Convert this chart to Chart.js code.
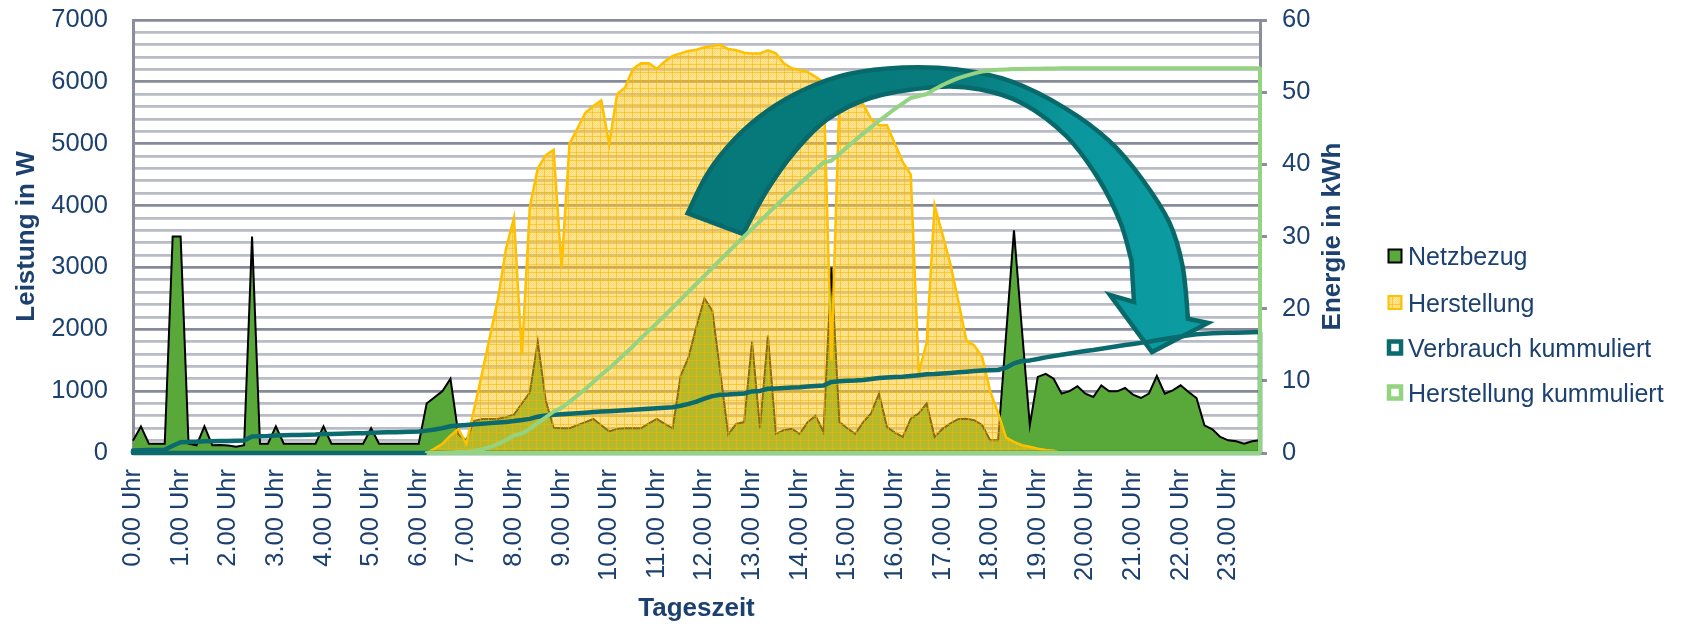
<!DOCTYPE html>
<html>
<head>
<meta charset="utf-8">
<title>Tagesverlauf Leistung und Energie</title>
<script src="https://cdn.jsdelivr.net/npm/chart.js@4.4.1/dist/chart.umd.min.js"></script>
<style>
  html, body { margin: 0; padding: 0; background: #ffffff; }
  #wrap { width: 1706px; height: 627px; }
</style>
</head>
<body>
<div id="wrap"><canvas id="chart" width="1706" height="627"></canvas></div>
<script>
// Hour labels shown on the time axis
const hourTicks = ['0.00 Uhr','1.00 Uhr','2.00 Uhr','3.00 Uhr','4.00 Uhr','5.00 Uhr','6.00 Uhr','7.00 Uhr',
  '8.00 Uhr','9.00 Uhr','10.00 Uhr','11.00 Uhr','12.00 Uhr','13.00 Uhr','14.00 Uhr','15.00 Uhr',
  '16.00 Uhr','17.00 Uhr','18.00 Uhr','19.00 Uhr','20.00 Uhr','21.00 Uhr','22.00 Uhr','23.00 Uhr'];

// 10-minute time slots from 0.00 to 23.40 Uhr
const times = [];
for (let k = 0; k < 143; k++) {
  const h = Math.floor(k / 6), m = (k % 6) * 10;
  times.push(h + '.' + String(m).padStart(2, '0') + ' Uhr');
}

// Grid power drawn (W)
const netzbezug = [
  200, 430, 150, 150, 150, 3500, 3500, 150, 125, 430,
  125, 130, 120, 100, 125, 3500, 150, 150, 430, 150,
  150, 150, 150, 150, 430, 150, 150, 150, 150, 150,
  400, 150, 150, 150, 150, 150, 150, 800, 900, 1000,
  1200, 300, 200, 520, 550, 550, 555, 580, 620, 800,
  980, 1800, 850, 410, 400, 400, 450, 500, 550, 450,
  350, 390, 400, 400, 400, 480, 550, 470, 400, 1250,
  1550, 2050, 2500, 2300, 1300, 300, 470, 500, 1800, 400,
  1900, 310, 370, 390, 310, 500, 600, 340, 3000, 500,
  400, 310, 500, 640, 960, 420, 330, 260, 555, 640,
  800, 260, 390, 480, 550, 555, 530, 450, 205, 205,
  1900, 3600, 2000, 450, 1230, 1280, 1200, 960, 1000, 1080,
  960, 905, 1094, 997, 997, 1051, 943, 889, 960, 1245,
  960, 1013, 1094, 986, 889, 447, 383, 259, 205, 189,
  151, 189, 205
];

// PV production (W)
const herstellung = [
  null, null, null, null, null, null, null, null, null, null,
  null, null, null, null, null, null, null, null, null, null,
  null, null, null, null, null, null, null, null, null, null,
  null, null, null, null, null, null, null, 0, 70, 150,
  280, 390, 150, 720, 1300, 1900, 2500, 3300, 3800, 1580,
  3980, 4600, 4810, 4900, 3000, 5000, 5250, 5500, 5610, 5700,
  5000, 5800, 5910, 6210, 6300, 6300, 6210, 6330, 6420, 6460,
  6500, 6520, 6560, 6580, 6600, 6530, 6510, 6470, 6460, 6460,
  6510, 6460, 6300, 6220, 6190, 6160, 6080, 6000, 1500, 5700,
  5700, 5650, 5640, 5400, 5300, 5300, 5000, 4700, 4500, 1300,
  1780, 4000, 3530, 3050, 2450, 1820, 1740, 1550, 1000, 650,
  250, 180, 125, 100, 70, 50, 35, 0, null, null,
  null, null, null, null, null, null, null, null, null, null,
  null, null, null, null, null, null, null, null, null, null,
  null, null, null
];

// Cumulated consumption (kWh)
const verbrauchKum = [
  0.35, 0.38, 0.40, 0.42, 0.45, 1.00, 1.50, 1.53, 1.55, 1.62,
  1.64, 1.66, 1.68, 1.70, 1.73, 2.30, 2.33, 2.36, 2.43, 2.45,
  2.48, 2.50, 2.53, 2.55, 2.62, 2.65, 2.67, 2.70, 2.72, 2.75,
  2.82, 2.84, 2.87, 2.89, 2.92, 2.94, 2.97, 3.10, 3.25, 3.45,
  3.70, 3.80, 3.88, 3.98, 4.06, 4.14, 4.22, 4.31, 4.42, 4.56,
  4.73, 5.03, 5.20, 5.30, 5.38, 5.45, 5.52, 5.59, 5.67, 5.74,
  5.80, 5.86, 5.93, 6.00, 6.06, 6.13, 6.21, 6.28, 6.35, 6.55,
  6.80, 7.13, 7.52, 7.88, 8.06, 8.10, 8.17, 8.25, 8.53, 8.60,
  8.90, 8.95, 9.01, 9.07, 9.12, 9.20, 9.30, 9.36, 9.85, 9.93,
  10.00, 10.05, 10.13, 10.24, 10.40, 10.47, 10.53, 10.57, 10.66, 10.77,
  10.90, 10.94, 11.01, 11.09, 11.18, 11.27, 11.36, 11.43, 11.47, 11.50,
  11.82, 12.42, 12.75, 12.83, 13.03, 13.25, 13.45, 13.61, 13.78, 13.96,
  14.12, 14.27, 14.45, 14.62, 14.78, 14.96, 15.11, 15.26, 15.42, 15.63,
  15.79, 15.96, 16.14, 16.30, 16.45, 16.52, 16.58, 16.62, 16.65, 16.68,
  16.70, 16.73, 16.76
];

// Cumulated production (kWh)
const herstellungKum = [
  null, null, null, null, null, null, null, null, null, null,
  null, null, null, null, null, null, null, null, null, null,
  null, null, null, null, null, null, null, null, null, null,
  null, null, null, null, null, null, null, 0, 0.01, 0.03,
  0.08, 0.14, 0.17, 0.29, 0.51, 0.83, 1.25, 1.80, 2.43, 2.70,
  3.36, 4.13, 4.93, 5.75, 6.25, 7.08, 7.96, 8.88, 9.85, 10.85,
  11.75, 12.75, 13.75, 14.80, 15.90, 16.95, 18.00, 19.05, 20.15, 21.25,
  22.35, 23.45, 24.55, 25.65, 26.75, 27.85, 28.95, 30.00, 31.05, 32.10,
  33.20, 34.25, 35.30, 36.30, 37.30, 38.30, 39.30, 40.25, 40.50, 41.45,
  42.40, 43.35, 44.25, 45.15, 46.00, 46.85, 47.70, 48.45, 49.20, 49.45,
  49.75, 50.40, 51.00, 51.50, 51.95, 52.30, 52.60, 52.85, 53.00, 53.10,
  53.15, 53.20, 53.22, 53.24, 53.26, 53.27, 53.28, 53.30, 53.30, 53.30,
  53.30, 53.30, 53.30, 53.30, 53.30, 53.30, 53.30, 53.30, 53.30, 53.30,
  53.30, 53.30, 53.30, 53.30, 53.30, 53.30, 53.30, 53.30, 53.30, 53.30,
  53.30, 53.30, 53.30
];

const seriesNames = ['Netzbezug', 'Herstellung', 'Verbrauch kummuliert', 'Herstellung kummuliert'];

const FONT = "'Liberation Sans', Arial, sans-serif";
const TEXT = '#1c4170';
const GRID_MAJOR = '#878b99';
const GRID_MINOR = '#b9bbc5';
const AXIS = '#8a8d9b';
const GREEN = '#58a83a';
const GOLD = '#ffc000';
const TEAL = '#0b6a6e';
const LIGHTGREEN = '#93d381';

const canvas = document.getElementById('chart');
const ctx0 = canvas.getContext('2d');

// Small-grid hatch used for the production area
function makeHatch(ctx) {
  const c = document.createElement('canvas');
  c.width = 8; c.height = 8;
  const g = c.getContext('2d');
  g.fillStyle = 'rgba(255,204,40,0.5)';
  g.fillRect(0, 0, 8, 8);
  g.fillStyle = 'rgba(255,190,0,0.18)';
  for (let y = 0; y < 8; y++) for (let x = 0; x < 8; x++) if ((x + y) % 2 === 0) g.fillRect(x, y, 1, 1);
  g.fillStyle = 'rgba(245,180,0,0.55)';
  g.fillRect(0, 0, 8, 1);
  g.fillRect(0, 0, 1, 8);
  return ctx.createPattern(c, 'repeat');
}
const hatch = makeHatch(ctx0);

// Curved block arrow, outline given relative to the plot area's top-left corner
const arrowOuter = [[554.6,193.2],[574.2,154.1],[601.4,119.3],[634,91],[672,69.2],[715.6,54],[770,47.5],[824.4,49.6],[878.8,61.6],[933.2,88.8],[976.8,121.4],[1009.4,159.5],[1036.6,203],[1049.7,246.6],[1055,298.8]];
const arrowHead = [[1075,303],[1019,332],[977,275],[1001,282]];
const arrowInner = [[998.5,241],[987.6,203],[965.9,159.5],[933.2,116],[889.7,83.4],[846.2,69.2],[802.7,67],[737.4,78],[693.9,99.7],[661.2,132.3],[634,170.4],[610,214]];

function smoothThrough(ctx, pts) {
  for (let i = 0; i < pts.length - 1; i++) {
    const p0 = pts[Math.max(i - 1, 0)], p1 = pts[i], p2 = pts[i + 1], p3 = pts[Math.min(i + 2, pts.length - 1)];
    const c1x = p1[0] + (p2[0] - p0[0]) / 6, c1y = p1[1] + (p2[1] - p0[1]) / 6;
    const c2x = p2[0] - (p3[0] - p1[0]) / 6, c2y = p2[1] - (p3[1] - p1[1]) / 6;
    ctx.bezierCurveTo(c1x, c1y, c2x, c2y, p2[0], p2[1]);
  }
}

function drawArrow(chart) {
  const { ctx, chartArea } = chart;
  const ox = chartArea.left, oy = chartArea.top;
  const sh = p => [p[0] + ox, p[1] + oy];
  const outer = arrowOuter.map(sh), head = arrowHead.map(sh), inner = arrowInner.map(sh);
  ctx.save();
  ctx.beginPath();
  ctx.moveTo(outer[0][0], outer[0][1]);
  smoothThrough(ctx, outer);
  head.forEach(p => ctx.lineTo(p[0], p[1]));
  ctx.lineTo(inner[0][0], inner[0][1]);
  smoothThrough(ctx, inner);
  ctx.closePath();
  const grad = ctx.createLinearGradient(ox + 550, 0, ox + 1060, 0);
  grad.addColorStop(0, '#06787a');
  grad.addColorStop(0.55, '#077b7d');
  grad.addColorStop(0.75, '#0a969c');
  grad.addColorStop(1, '#0b9ca2');
  ctx.fillStyle = grad;
  ctx.fill();
  ctx.lineWidth = 4.5;
  ctx.lineJoin = 'miter';
  ctx.strokeStyle = '#08696b';
  ctx.stroke();
  ctx.restore();
}

// Closes the cumulative lines down to the axis like an outlined area
function drawAreaOutline(chart, index) {
  const meta = chart.getDatasetMeta(index);
  const ds = chart.data.datasets[index];
  const pts = meta.data.filter(p => !p.skip);
  if (!pts.length) return;
  const base = chart.scales.y2.getPixelForValue(0);
  const first = pts[0], last = pts[pts.length - 1];
  const { ctx } = chart;
  ctx.save();
  ctx.strokeStyle = ds.borderColor;
  ctx.lineWidth = ds.borderWidth;
  ctx.lineJoin = 'round';
  ctx.beginPath();
  ctx.moveTo(last.x, last.y);
  ctx.lineTo(last.x, base);
  ctx.lineTo(first.x, base);
  ctx.lineTo(first.x, first.y);
  ctx.stroke();
  ctx.restore();
}

const decorPlugin = {
  id: 'decor',
  afterDatasetDraw(chart, args) {
    if (args.index === 1) drawArrow(chart);
    if (args.index === 2 || args.index === 3) drawAreaOutline(chart, args.index);
  },
  afterDraw(chart) {
    const { ctx, chartArea } = chart;
    // right axis title
    ctx.save();
    ctx.fillStyle = TEXT;
    ctx.font = 'bold 26px ' + FONT;
    ctx.translate(chartArea.right + 71, (chartArea.top + chartArea.bottom) / 2);
    ctx.rotate(-Math.PI / 2);
    ctx.textAlign = 'center';
    ctx.textBaseline = 'alphabetic';
    ctx.fillText('Energie in kWh', 0, 9.3);
    ctx.restore();

    // legend
    const lx = chartArea.right + 135;
    const rows = [chartArea.top + 236, chartArea.top + 282.5, chartArea.top + 327.5, chartArea.top + 372.5];
    ctx.save();
    ctx.font = '25px ' + FONT;
    ctx.textBaseline = 'alphabetic';
    ctx.textAlign = 'left';
    rows.forEach((cy, i) => {
      if (i === 0) {
        ctx.fillStyle = GREEN; ctx.fillRect(lx - 6.5, cy - 6.5, 13, 13);
        ctx.strokeStyle = '#000'; ctx.lineWidth = 2; ctx.strokeRect(lx - 6.5, cy - 6.5, 13, 13);
      } else if (i === 1) {
        ctx.fillStyle = hatch; ctx.fillRect(lx - 6.5, cy - 6.5, 13, 13);
        ctx.strokeStyle = GOLD; ctx.lineWidth = 2; ctx.strokeRect(lx - 6.5, cy - 6.5, 13, 13);
      } else {
        ctx.fillStyle = '#fff'; ctx.fillRect(lx - 6.5, cy - 6.5, 13, 13);
        ctx.strokeStyle = i === 2 ? TEAL : LIGHTGREEN; ctx.lineWidth = 4.5; ctx.strokeRect(lx - 6, cy - 6, 12, 12);
      }
      ctx.fillStyle = TEXT;
      ctx.fillText(seriesNames[i], lx + 13, cy + 9);
    });
    ctx.restore();
  }
};

new Chart(canvas, {
  type: 'line',
  data: {
    labels: times,
    datasets: [
      {
        label: seriesNames[0], data: netzbezug, yAxisID: 'y', order: 4,
        borderColor: '#000000', borderWidth: 2, backgroundColor: GREEN,
        fill: 'origin', pointRadius: 0, tension: 0
      },
      {
        label: seriesNames[1], data: herstellung, yAxisID: 'y', order: 3,
        borderColor: GOLD, borderWidth: 2.5, backgroundColor: hatch,
        fill: 'origin', pointRadius: 0, tension: 0
      },
      {
        label: seriesNames[2], data: verbrauchKum, yAxisID: 'y2', order: 2,
        borderColor: TEAL, borderWidth: 4.5, fill: false, pointRadius: 0, tension: 0,
        borderJoinStyle: 'round', borderCapStyle: 'round'
      },
      {
        label: seriesNames[3], data: herstellungKum, yAxisID: 'y2', order: 1,
        borderColor: LIGHTGREEN, borderWidth: 4, fill: false, pointRadius: 0, tension: 0,
        borderJoinStyle: 'round', borderCapStyle: 'round'
      }
    ]
  },
  options: {
    responsive: false,
    animation: false,
    devicePixelRatio: 1,
    layout: { padding: { top: 20, right: 356, bottom: 0, left: 0 } },
    plugins: { legend: { display: false }, tooltip: { enabled: false } },
    scales: {
      x: {
        type: 'category',
        offset: false,
        grid: { display: false, drawTicks: false },
        border: { display: true, color: AXIS, width: 3 },
        ticks: {
          autoSkip: false, maxRotation: 90, minRotation: 90, padding: 16,
          color: TEXT, font: { family: FONT, size: 25.5 },
          callback: (v, i) => (i % 6 === 0 ? hourTicks[i / 6] : '')
        },
        title: { display: true, text: 'Tageszeit', color: TEXT, font: { family: FONT, size: 26, weight: 'bold' }, padding: { top: 0, bottom: 3 } },
        afterFit: s => { s.height = 174; s.paddingLeft = 0; s.paddingRight = 0; }
      },
      y: {
        position: 'left', min: 0, max: 7000,
        grid: {
          drawTicks: false, lineWidth: 2.8,
          color: c => (c.tick.value === 0 ? 'rgba(0,0,0,0)' : (c.tick.value % 1000 === 0 ? GRID_MAJOR : GRID_MINOR))
        },
        border: { display: true, color: AXIS, width: 3 },
        ticks: {
          stepSize: 200, maxTicksLimit: 60, autoSkip: false, padding: 25, color: TEXT, font: { family: FONT, size: 25.5 },
          callback: v => (v % 1000 === 0 ? String(v) : '')
        },
        title: { display: true, text: 'Leistung in W', color: TEXT, font: { family: FONT, size: 26, weight: 'bold' }, padding: { top: 11, bottom: 0 } },
        afterFit: s => { s.width = 133; s.paddingTop = 16; s.paddingBottom = 16; }
      },
      y2: {
        position: 'right', min: 0, max: 60,
        grid: { drawOnChartArea: false, drawTicks: true, tickLength: 7, tickColor: AXIS, tickWidth: 3 },
        border: { display: true, color: AXIS, width: 3 },
        ticks: { stepSize: 10, autoSkip: false, padding: 15, color: TEXT, font: { family: FONT, size: 25.5 } },
        afterFit: s => { s.width = 90; s.paddingTop = 16; s.paddingBottom = 16; }
      }
    }
  },
  plugins: [decorPlugin]
});
</script>
</body>
</html>
